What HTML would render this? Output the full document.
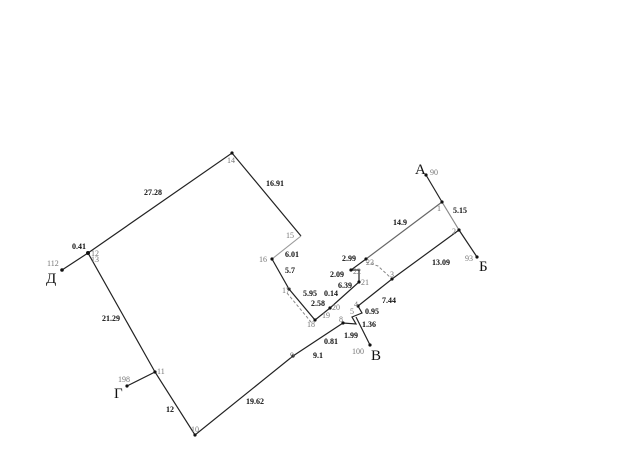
<!DOCTYPE html>
<html><head><meta charset="utf-8"><style>
html,body{margin:0;padding:0;background:#fff;width:620px;height:460px;overflow:hidden}
svg text{font-family:"Liberation Serif",serif}
.b{font-size:8px;font-weight:bold;fill:#111}
.n{font-size:8px;fill:#777}
.L{font-size:15px;fill:#111}
</style></head><body>
<svg width="620" height="460" viewBox="0 0 620 460" xmlns="http://www.w3.org/2000/svg">
<g stroke="#222" stroke-width="1.2" fill="none">
<polyline points="62,270 88,253 232,153 301,236"/>
<polyline points="272,259 289,289 315,320 330,308 359,282 359,270 351,270 366,259"/>
<line x1="366" y1="259" x2="442" y2="202" stroke="#666"/>
<line x1="426" y1="175" x2="442" y2="202"/>
<line x1="442" y1="202" x2="459" y2="230" stroke="#888"/>
<line x1="459" y1="230" x2="477" y2="257"/>
<polyline points="459,230 392,279 358,306 362,313 352,317 356,324 343,323 293,356 195,435 155,372 88,253"/>
<line x1="155" y1="372" x2="127" y2="386"/>
<line x1="356" y1="317" x2="370" y2="345"/>
</g>
<line x1="301" y1="236" x2="272" y2="259" stroke="#999" stroke-width="1.1"/>
<g stroke="#888" stroke-width="1" stroke-dasharray="3,2" fill="none">
<line x1="287" y1="293" x2="311" y2="322"/>
<polyline points="366,262 378,266 392,279"/>
</g>
<g fill="#111">
<circle cx="62" cy="270" r="1.8"/><circle cx="88" cy="253" r="2"/><circle cx="232" cy="153" r="1.6"/>
<circle cx="272" cy="259" r="1.6"/><circle cx="289" cy="289" r="1.6"/><circle cx="315" cy="320" r="1.6"/>
<circle cx="330" cy="308" r="1.6"/><circle cx="359" cy="282" r="1.6"/><circle cx="351" cy="270" r="1.6"/>
<circle cx="366" cy="259" r="1.6"/><circle cx="442" cy="202" r="1.6"/><circle cx="426" cy="175" r="1.6"/>
<circle cx="459" cy="230" r="1.6"/><circle cx="477" cy="257" r="1.6"/><circle cx="392" cy="279" r="1.6"/>
<circle cx="358" cy="306" r="1.6"/><circle cx="343" cy="323" r="1.6"/><circle cx="370" cy="345" r="1.6"/>
<circle cx="293" cy="356" r="1.6"/><circle cx="195" cy="435" r="1.6"/><circle cx="155" cy="372" r="1.6"/>
<circle cx="127" cy="386" r="1.6"/>
</g>
<text class="b" x="144" y="195">27.28</text>
<text class="b" x="266" y="186">16.91</text>
<text class="b" x="72" y="249">0.41</text>
<text class="b" x="102" y="321">21.29</text>
<text class="b" x="166" y="412">12</text>
<text class="b" x="246" y="404">19.62</text>
<text class="b" x="313" y="358">9.1</text>
<text class="b" x="324" y="344">0.81</text>
<text class="b" x="344" y="338">1.99</text>
<text class="b" x="362" y="327">1.36</text>
<text class="b" x="365" y="314">0.95</text>
<text class="b" x="382" y="303">7.44</text>
<text class="b" x="432" y="265">13.09</text>
<text class="b" x="453" y="213">5.15</text>
<text class="b" x="393" y="225">14.9</text>
<text class="b" x="342" y="261">2.99</text>
<text class="b" x="330" y="277">2.09</text>
<text class="b" x="338" y="288">6.39</text>
<text class="b" x="303" y="296">5.95</text>
<text class="b" x="324" y="296">0.14</text>
<text class="b" x="311" y="306">2.58</text>
<text class="b" x="285" y="257">6.01</text>
<text class="b" x="285" y="273">5.7</text>
<g class="n">
<text x="227" y="163">14</text><text x="286" y="238">15</text><text x="259" y="262">16</text>
<text x="282" y="293">17</text><text x="307" y="327">18</text><text x="322" y="318">19</text>
<text x="332" y="310">20</text><text x="361" y="285">21</text><text x="353" y="274">22</text>
<text x="366" y="265">23</text><text x="437" y="211">1</text><text x="452" y="234">2</text>
<text x="390" y="277">3</text><text x="354" y="307">4</text><text x="350" y="314">5</text>
<text x="339" y="322">8</text><text x="290" y="358">9</text><text x="191" y="432">10</text>
<text x="157" y="374">11</text><text x="91" y="256">12</text><text x="91" y="262">13</text>
<text x="430" y="175">90</text><text x="465" y="261">93</text><text x="352" y="354">100</text>
<text x="47" y="266">112</text><text x="118" y="382">198</text>
</g>
<text class="L" x="415" y="174">А</text>
<text class="L" x="479" y="271">Б</text>
<text class="L" x="371" y="360">В</text>
<text class="L" x="114" y="398">Г</text>
<text class="L" x="46" y="283">Д</text>
</svg>
</body></html>
